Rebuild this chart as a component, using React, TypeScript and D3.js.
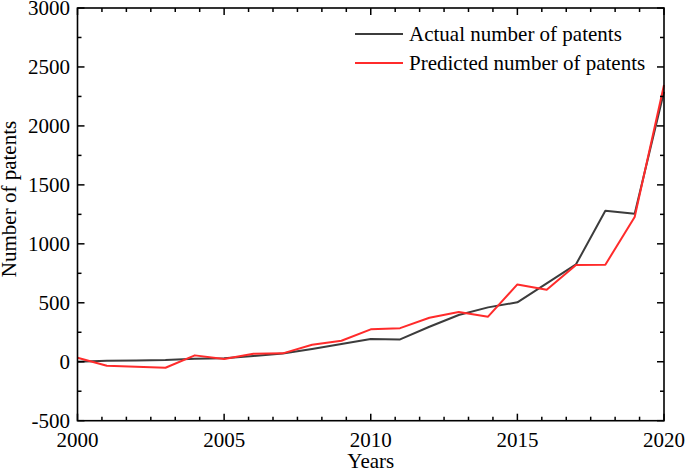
import * as d3 from 'd3';

const years = d3.range(2000, 2021);
const actual = [0, 8, 11, 14, 25, 29, 48, 70, 108, 150, 193, 189, 297, 396, 461, 504, 665, 826, 1281, 1256, 2290];
const predicted = [34, -34, -42, -51, 54, 23, 68, 71, 144, 178, 275, 285, 373, 422, 382, 656, 611, 820, 823, 1227, 2347];
const seriesNames = ['Actual number of patents', 'Predicted number of patents'];
const seriesColors = ['#3c3c3c', '#ff2b2b'];
const yTicks = [-500, 0, 500, 1000, 1500, 2000, 2500, 3000];
const xTicks = [2000, 2005, 2010, 2015, 2020];

const W = 685;
const H = 469;
const m = { left: 77.5, right: 21, top: 8, bottom: 48.3 };
const font = '"Liberation Serif", "Times New Roman", serif';

export default function App() {
  const x = d3.scaleLinear().domain([2000, 2020]).range([m.left, W - m.right]);
  const y = d3.scaleLinear().domain([-500, 3000]).range([H - m.bottom, m.top]);
  const line = d3.line<number>().x((_, i) => x(years[i])).y(d => y(d));

  const x0 = x.range()[0], x1 = x.range()[1];
  const y0 = y.range()[0], y1 = y.range()[1];

  // minor ticks: 6 per 5 years on x, 1 per major on y
  const xMinor = d3.range(0, 25).map(i => 2000 + i * 5 / 6).filter(v => v <= 2020 && Math.abs(v - Math.round(v / 5) * 5) > 0.01);
  const yMinor = d3.range(-250, 3000, 500);

  return (
    <svg width={W} height={H} style={{ position: 'absolute', left: 0, top: 0, background: '#fff' }}>
      <g fontFamily={font} fontSize={21} fill="#000">
        {seriesNames.map((name, k) => (
          <path key={name} d={line(k === 0 ? actual : predicted) || ''} fill="none"
            stroke={seriesColors[k]} strokeWidth={2} strokeLinejoin="round" />
        ))}

        <rect x={x0} y={y1} width={x1 - x0} height={y0 - y1} fill="none" stroke="#000" strokeWidth={1.6} />

        {xTicks.map(t => (
          <g key={t}>
            <line x1={x(t)} x2={x(t)} y1={y0} y2={y0 - 7} stroke="#000" strokeWidth={1.5} />
            <line x1={x(t)} x2={x(t)} y1={y1} y2={y1 + 7} stroke="#000" strokeWidth={1.5} />
            <text x={x(t)} y={446.5} textAnchor="middle">{t}</text>
          </g>
        ))}
        {xMinor.map(t => (
          <g key={'m' + t}>
            <line x1={x(t)} x2={x(t)} y1={y0} y2={y0 - 4} stroke="#000" strokeWidth={1.5} />
            <line x1={x(t)} x2={x(t)} y1={y1} y2={y1 + 4} stroke="#000" strokeWidth={1.5} />
          </g>
        ))}

        {yTicks.map(t => (
          <g key={t}>
            <line x1={x0} x2={x0 + 7} y1={y(t)} y2={y(t)} stroke="#000" strokeWidth={1.5} />
            <line x1={x1} x2={x1 - 7} y1={y(t)} y2={y(t)} stroke="#000" strokeWidth={1.5} />
            <text x={70} y={y(t)} dy="0.35em" textAnchor="end">{t}</text>
          </g>
        ))}
        {yMinor.map(t => (
          <g key={'m' + t}>
            <line x1={x0} x2={x0 + 4} y1={y(t)} y2={y(t)} stroke="#000" strokeWidth={1.5} />
            <line x1={x1} x2={x1 - 4} y1={y(t)} y2={y(t)} stroke="#000" strokeWidth={1.5} />
          </g>
        ))}

        <text x={(x0 + x1) / 2} y={468} textAnchor="middle">Years</text>
        <text transform="translate(16, 199) rotate(-90)" textAnchor="middle">Number of patents</text>

        {seriesNames.map((name, k) => (
          <g key={name} transform={`translate(355, ${34 + k * 29})`}>
            <line x1={0} x2={48} y1={0} y2={0} stroke={seriesColors[k]} strokeWidth={2} />
            <text x={54} y={0} dy="0.33em">{name}</text>
          </g>
        ))}
      </g>
    </svg>
  );
}
